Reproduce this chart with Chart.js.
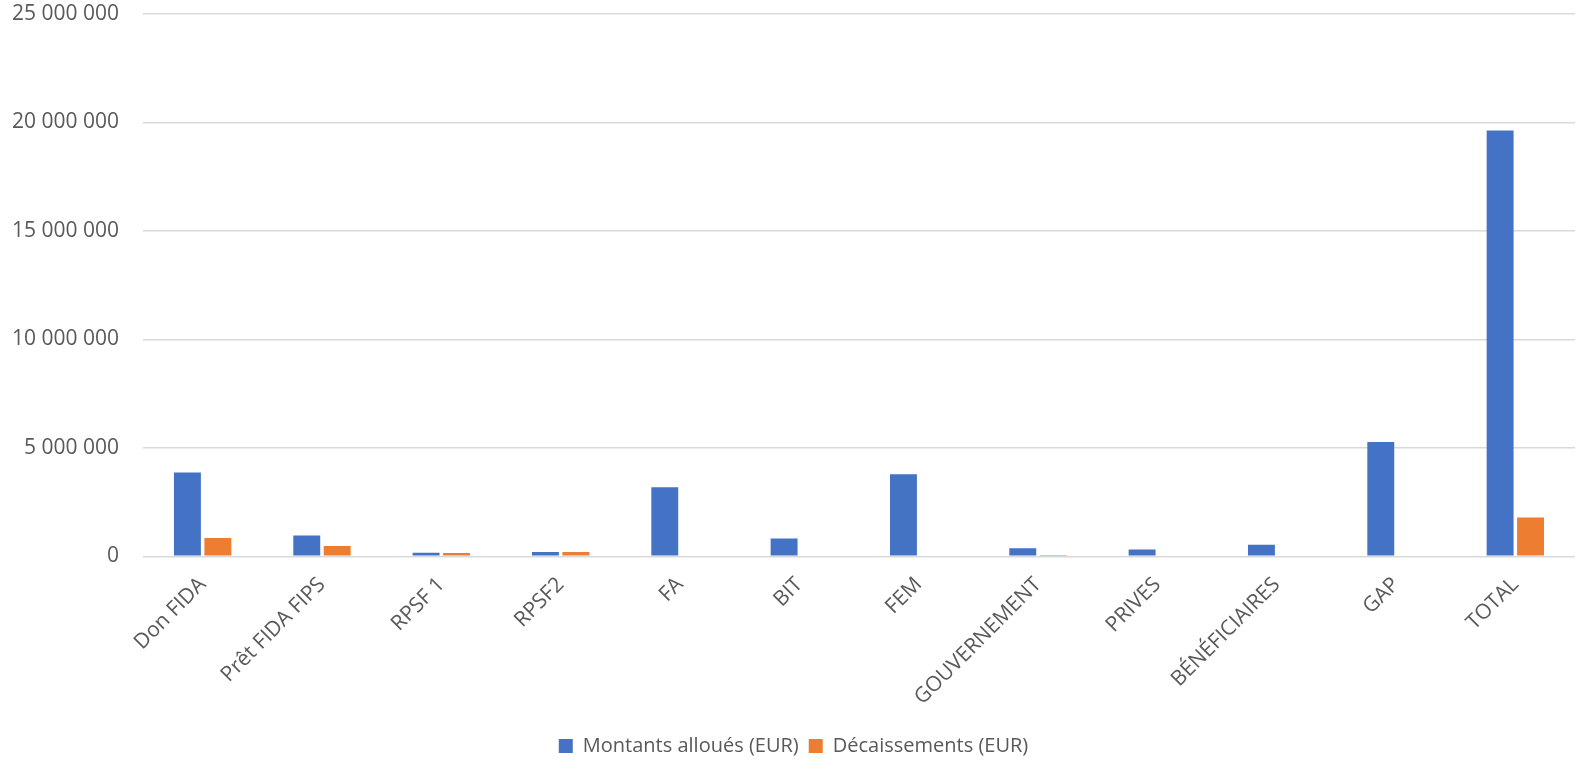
<!DOCTYPE html>
<html>
<head>
<meta charset="utf-8">
<script src="https://cdn.jsdelivr.net/npm/chart.js@4.4.1/dist/chart.umd.min.js"></script>
<style>
  html, body { margin: 0; padding: 0; background: #fff; }
  #wrap { width: 1582px; height: 768px; }
</style>
</head>
<body>
<div id="wrap"><canvas id="grafico" width="1582" height="768"></canvas></div>
<script>
// Données (EUR)
const categories = ['Don FIDA', 'Prêt FIDA FIPS', 'RPSF 1', 'RPSF2', 'FA', 'BIT', 'FEM',
  'GOUVERNEMENT', 'PRIVES', 'BÉNÉFICIAIRES', 'GAP', 'TOTAL'];
const montantsAlloues = [3870000, 960000, 160000, 200000, 3190000, 820000, 3780000,
  370000, 320000, 530000, 5270000, 19630000];
const decaissements = [850000, 480000, 150000, 200000, 0, 0, 0,
  20000, 0, 0, 0, 1790000];
const yTicks = [0, 5000000, 10000000, 15000000, 20000000, 25000000];

const gris = '#595959';
const police = "'Open Sans', 'Noto Sans', sans-serif";

function formatNombre(v) {
  return String(Math.round(v)).replace(/\B(?=(\d{3})+(?!\d))/g, ' ');
}

const ctx = document.getElementById('grafico').getContext('2d');
new Chart(ctx, {
  type: 'bar',
  data: {
    labels: categories,
    datasets: [{
      label: 'Montants alloués (EUR)',
      data: montantsAlloues,
      backgroundColor: '#4472C4',
      categoryPercentage: 0.51,
      barPercentage: 0.885
    }, {
      label: 'Décaissements (EUR)',
      data: decaissements,
      backgroundColor: '#ED7D31',
      categoryPercentage: 0.51,
      barPercentage: 0.885
    }]
  },
  options: {
    responsive: false,
    animation: false,
    layout: { padding: { left: 12, right: 7, top: 0, bottom: 2 } },
    plugins: {
      tooltip: { enabled: false },
      legend: {
        position: 'bottom',
        labels: {
          color: gris,
          font: { family: police, size: 20 },
          boxWidth: 14,
          boxHeight: 14,
          padding: 10
        }
      }
    },
    scales: {
      x: {
        grid: { display: false, drawTicks: false },
        border: { display: false },
        ticks: {
          color: gris,
          font: { family: police, size: 21 },
          minRotation: 45,
          maxRotation: 45,
          padding: 16
        },
        // pas de marge supplémentaire à gauche pour les étiquettes inclinées
        afterFit: scale => { scale.paddingLeft = 0; scale.paddingRight = 0; }
      },
      y: {
        min: 0,
        max: 25000000,
        afterBuildTicks: axis => { axis.ticks = yTicks.map(v => ({ value: v })); },
        afterFit: scale => {
          scale.paddingTop = 14;
          scale.paddingBottom = 13;
          scale.width -= 24; // Chart.js compte le padding deux fois
        },
        grid: { color: '#d9d9d9', lineWidth: 1.5, drawTicks: false },
        border: { display: false },
        ticks: {
          color: gris,
          font: { family: police, size: 21 },
          padding: 24,
          callback: v => formatNombre(v)
        }
      }
    }
  }
});
</script>
</body>
</html>
